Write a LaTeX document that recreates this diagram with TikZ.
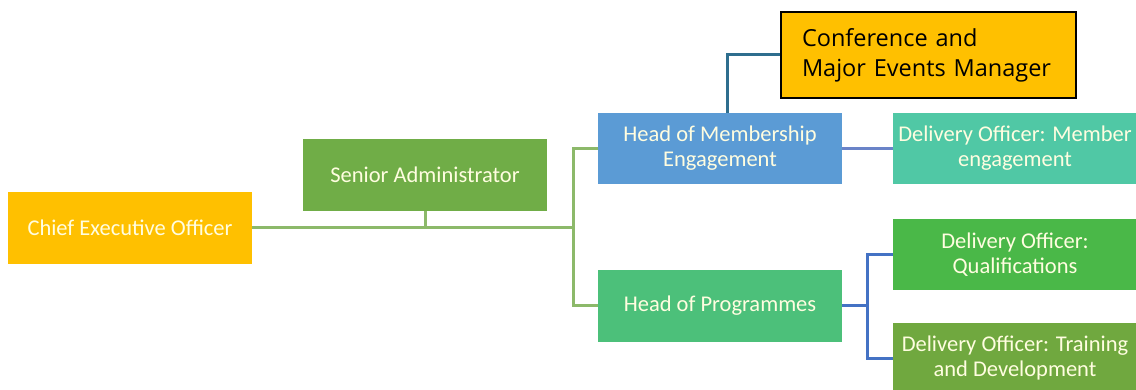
\documentclass[tikz,border=0pt]{standalone}
\usepackage{fontspec}
\setmainfont{Carlito}
\newfontfamily\boxfont{Open Sans}
\usetikzlibrary{positioning}

\definecolor{ceoyellow}{RGB}{255,192,0}
\definecolor{admingreen}{RGB}{112,173,71}
\definecolor{headblue}{RGB}{91,155,213}
\definecolor{memberteal}{RGB}{80,200,165}
\definecolor{progsgreen}{RGB}{76,192,122}
\definecolor{qualgreen}{RGB}{74,184,72}
\definecolor{traingreen}{RGB}{112,168,63}
\definecolor{linkgreen}{RGB}{140,185,106}
\definecolor{linkteal}{RGB}{46,110,142}
\definecolor{linkblue}{RGB}{68,114,196}
\definecolor{linkslate}{RGB}{106,131,200}

\begin{document}
\begin{tikzpicture}[x=1pt,y=-1pt,
    post/.style={minimum width=244pt,minimum height=72pt,inner sep=0pt,align=center,
                 text=white!88!yellow,font=\fontsize{22.5}{25}\selectfont},
    link/.style={line width=3pt}]
  \useasboundingbox (0,0) rectangle (1136,390);

  % posts
  \node[post,fill=ceoyellow] (ceo) at (130,228) {Chief Executive Officer};
  \node[post,fill=admingreen] (admin) at (425,175) {Senior Administrator};
  \node[post,fill=headblue,minimum height=71pt] (member) at (720,148.5) {Head of Membership\\Engagement};
  \node[post,fill=progsgreen] (progs) at (720,306) {Head of Programmes};
  \node[post,fill=memberteal,minimum height=71pt] (dom) at (1015,148.5) {Delivery Officer: Member\\engagement};
  \node[post,fill=qualgreen,minimum height=71pt] (doq) at (1015,254.5) {Delivery Officer:\\Qualifications};
  \node[post,fill=traingreen,minimum height=70pt] (dot) at (1015,358) {Delivery Officer: Training\\and Development};

  % the added post
  \node[fill=ceoyellow,draw=black,line width=2pt,minimum width=295pt,minimum height=86pt,
        text width=273pt,inner sep=0pt,align=left,text=black,
        font=\boxfont\fontsize{23.5}{30}\selectfont] (conf) at (928.5,55)
        {\hspace*{10pt}Conference and\\\hspace*{10pt}Major Events Manager};

  % reporting lines
  \coordinate (split) at (573,228);
  \coordinate (memtop) at ([xshift=7pt]member.north);
  \draw[link,linkgreen] (ceo.east) -- (split);
  \draw[link,linkgreen] (admin.south) -- (admin.south |- split);
  \draw[link,linkgreen] (member.west) -| (split) |- (progs.west);
  \draw[link,linkteal] (conf.west) -| (memtop);
  \draw[link,linkslate] (member.east) -- (dom.west);
  \coordinate (fork) at (867,306);
  \draw[link,linkblue] (progs.east) -- (fork);
  \draw[link,linkblue] (doq.west) -| (fork) |- (dot.west);
\end{tikzpicture}
\end{document}
